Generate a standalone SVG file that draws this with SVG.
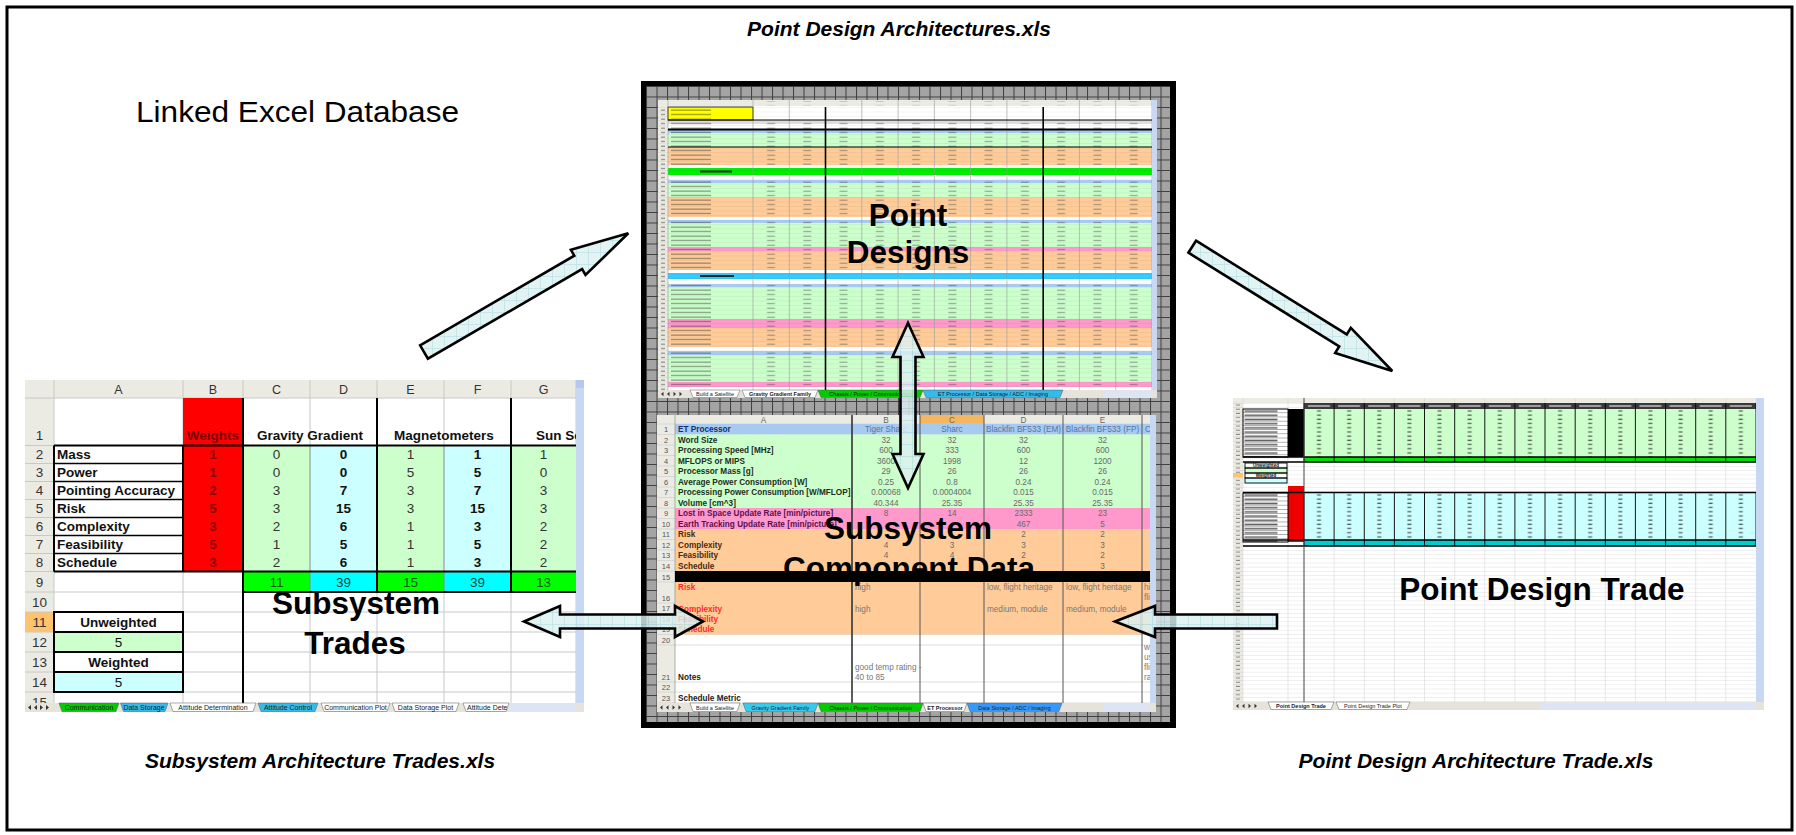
<svg xmlns="http://www.w3.org/2000/svg" width="1796" height="835" viewBox="0 0 1796 835">
<style>
.big{font-family:"Liberation Sans",Arial,sans-serif;font-size:31.5px;font-weight:bold;text-anchor:middle;fill:#000}
.cap{font-family:"Liberation Sans",Arial,sans-serif;font-size:21px;font-weight:bold;font-style:italic;text-anchor:middle;fill:#000}
.arrow{fill:url(#hatch);fill-opacity:.82;stroke:#000;stroke-width:2.6;stroke-linejoin:miter}
.gl{stroke:#c8c8c8;stroke-width:1;fill:none}
.bk{stroke:#000;fill:none}
.ls{font-family:"Liberation Sans",Arial,sans-serif;font-size:13.5px;fill:#111}
.ch{font-size:12.5px;fill:#333}
.lb{font-weight:bold}
.m{text-anchor:middle}
.hdr{fill:#ecebe3}
.g1{fill:#ccffcc}.c1{fill:#ccffff}.g2{fill:#00ff00}.c2{fill:#00ffff}.rd{fill:#ff0000}
.bl{fill:#a6caf0}.or{fill:#ffcc99}.pk{fill:#ff99cc}
.cs{font-family:"Liberation Sans",Arial,sans-serif;font-size:8.2px;fill:#6a6a6a}
.rn{font-family:"Liberation Sans",Arial,sans-serif;font-size:7.5px;fill:#555;text-anchor:middle}
.tab{font-family:"Liberation Sans",Arial,sans-serif;font-size:7px;fill:#222;text-anchor:middle}
.tabs{font-family:"Liberation Sans",Arial,sans-serif;font-size:5.5px;fill:#222;text-anchor:middle}
</style>
<defs>
<pattern id="frameGrid" patternUnits="userSpaceOnUse" x="646" y="86" width="10.5" height="10.5">
<rect width="10.5" height="10.5" fill="#a4a4a4"/>
<path d="M0 0.5H10.5M0.5 0V10.5" stroke="#3f3f3f" stroke-width="1"/>
</pattern>
<pattern id="hatch" patternUnits="userSpaceOnUse" width="12" height="12">
<rect width="12" height="12" fill="#dcf0f2"/>
<path d="M0 0.5H12M0.5 0V12" stroke="#b2dce1" stroke-width="0.8"/>
</pattern>
<pattern id="dT" patternUnits="userSpaceOnUse" x="753" y="0" width="36.27" height="4.5"><rect x="14" y="1.6" width="8" height="1.1" fill="#444" fill-opacity=".5"/></pattern>
<pattern id="lT" patternUnits="userSpaceOnUse" x="668" y="0" width="85" height="4.5"><rect x="3" y="1.5" width="40" height="1.2" fill="#1a1a1a" fill-opacity=".45"/></pattern>
<pattern id="nT" patternUnits="userSpaceOnUse" x="658" y="0" width="10" height="4.5"><rect x="3" y="1.6" width="4" height="1" fill="#777"/></pattern>
<pattern id="rowT" patternUnits="userSpaceOnUse" x="0" y="107" width="20" height="4.5"><rect width="20" height=".4" fill="#000" fill-opacity=".1"/></pattern>
<pattern id="dR" patternUnits="userSpaceOnUse" x="1304" y="409" width="30.13" height="4.2"><rect x="13" y="1.3" width="4" height="1.3" fill="#111" fill-opacity=".65"/></pattern>
<pattern id="dRw" patternUnits="userSpaceOnUse" x="1304" y="403" width="30.13" height="6"><rect x="4" y="2.3" width="22" height="1.4" fill="#eee" fill-opacity=".8"/></pattern>
<pattern id="lR" patternUnits="userSpaceOnUse" x="1243" y="409" width="45" height="4.2"><rect x="1.5" y="1.3" width="33" height="1.6" fill="#111" fill-opacity=".65"/><rect y="3.9" width="45" height=".3" fill="#000"/></pattern>
<pattern id="rowR" patternUnits="userSpaceOnUse" x="0" y="403" width="20" height="4.2"><rect width="20" height=".4" fill="#000" fill-opacity=".14"/></pattern>
<pattern id="nR" patternUnits="userSpaceOnUse" x="1233" y="403" width="10" height="4.2"><rect x="3" y="1.5" width="4" height="1" fill="#888"/></pattern>
<clipPath id="clipG"><rect x="511" y="380" width="65" height="330"/></clipPath>
<clipPath id="clipTabL"><rect x="463" y="703" width="44" height="9"/></clipPath>
<clipPath id="clipF"><rect x="1142" y="415" width="8" height="290"/></clipPath>
</defs>

<rect width="1796" height="835" fill="#fff"/>
<rect x="7" y="7" width="1785" height="823" fill="none" stroke="#000" stroke-width="3"/>

<g id="labels">
<text class="cap" x="899" y="36">Point Design Architectures.xls</text>
<text x="136" y="122" font-family="Liberation Sans, Arial, sans-serif" font-size="30" textLength="323" lengthAdjust="spacingAndGlyphs" fill="#000">Linked Excel Database</text>
<text class="cap" x="320" y="768">Subsystem Architecture Trades.xls</text>
<text class="cap" x="1476" y="768">Point Design Architecture Trade.xls</text>
</g>

<g id="sheet-subsystem-trades">
<rect x="25" y="380" width="559" height="332" fill="#fff"/>
<rect class="hdr" x="25" y="380" width="551" height="18"/>
<rect class="hdr" x="25" y="398" width="29" height="305"/>
<rect x="25" y="612" width="29" height="20" fill="#ffc36e"/>
<path class="gl" d="M25 398H576M25 445.5H576M25 463.5H576M25 481.5H576M25 499.5H576M25 517.5H576M25 535.5H576M25 553.5H576M25 571.5H576M25 592H576M25 612H576M25 632H576M25 652H576M25 672H576M25 692H576M54 380V703M183 380V703M243 380V703M310 380V703M377 380V703M444 380V703M511 380V703M576 380V703"/>
<rect class="rd" x="183" y="398" width="60" height="173.5"/>
<rect class="g1" x="243" y="445.5" width="67" height="126"/>
<rect class="c1" x="310" y="445.5" width="67" height="126"/>
<rect class="g1" x="377" y="445.5" width="67" height="126"/>
<rect class="c1" x="444" y="445.5" width="67" height="126"/>
<rect class="g1" x="511" y="445.5" width="65" height="126"/>
<rect class="g2" x="243" y="571.5" width="67" height="20.5"/>
<rect class="c2" x="310" y="571.5" width="67" height="20.5"/>
<rect class="g2" x="377" y="571.5" width="67" height="20.5"/>
<rect class="c2" x="444" y="571.5" width="67" height="20.5"/>
<rect class="g2" x="511" y="571.5" width="65" height="20.5"/>
<rect class="g1" x="54" y="632" width="129" height="20"/>
<rect class="c1" x="54" y="672" width="129" height="20"/>
<path d="M310 445.5V592M444 445.5V592" stroke="#8a8a8a" stroke-width="1"/>
<g class="bk" stroke-width="2">
<path d="M54 445.5H576M54 571.5H576M243 592H576M243 398V703M377 398V592M511 398V592M54 445.5V571.5M183 445.5V571.5"/>
<path stroke-width="1.5" d="M54 463.5H183M54 481.5H183M54 499.5H183M54 517.5H183M54 535.5H183M54 553.5H183"/>
<rect x="54" y="612" width="129" height="80"/>
<path d="M54 632H183M54 652H183M54 672H183"/>
</g>
<g class="ls ch m">
<text x="118.5" y="394">A</text><text x="213" y="394">B</text><text x="276.5" y="394">C</text><text x="343.5" y="394">D</text><text x="410.5" y="394">E</text><text x="477.5" y="394">F</text><text x="543.5" y="394">G</text>
</g>
<g class="ls m" style="fill:#333">
<text x="39.5" y="440">1</text><text x="39.5" y="459">2</text><text x="39.5" y="477">3</text><text x="39.5" y="495">4</text><text x="39.5" y="513">5</text><text x="39.5" y="531">6</text><text x="39.5" y="549">7</text><text x="39.5" y="567">8</text><text x="39.5" y="587">9</text><text x="39.5" y="607">10</text><text x="39.5" y="627">11</text><text x="39.5" y="647">12</text><text x="39.5" y="667">13</text><text x="39.5" y="687">14</text><text x="39.5" y="707">15</text>
</g>
<text class="ls lb m" x="213" y="440" style="fill:#7a0000">Weights</text>
<text class="ls lb m" x="310" y="440">Gravity Gradient</text>
<text class="ls lb m" x="444" y="440">Magnetometers</text>
<text class="ls lb" x="536" y="440" clip-path="url(#clipG)">Sun Sensors</text>
<g class="ls lb">
<text x="57" y="459">Mass</text><text x="57" y="477">Power</text><text x="57" y="495">Pointing Accuracy</text><text x="57" y="513">Risk</text><text x="57" y="531">Complexity</text><text x="57" y="549">Feasibility</text><text x="57" y="567">Schedule</text>
</g>
<g class="ls lb m" style="fill:#8a0000">
<text x="213" y="459">1</text><text x="213" y="477">1</text><text x="213" y="495">2</text><text x="213" y="513">5</text><text x="213" y="531">3</text><text x="213" y="549">5</text><text x="213" y="567">3</text>
</g>
<g class="ls m" style="fill:#333">
<text x="276.5" y="459">0</text><text x="276.5" y="477">0</text><text x="276.5" y="495">3</text><text x="276.5" y="513">3</text><text x="276.5" y="531">2</text><text x="276.5" y="549">1</text><text x="276.5" y="567">2</text>
<text x="410.5" y="459">1</text><text x="410.5" y="477">5</text><text x="410.5" y="495">3</text><text x="410.5" y="513">3</text><text x="410.5" y="531">1</text><text x="410.5" y="549">1</text><text x="410.5" y="567">1</text>
<text x="543.5" y="459">1</text><text x="543.5" y="477">0</text><text x="543.5" y="495">3</text><text x="543.5" y="513">3</text><text x="543.5" y="531">2</text><text x="543.5" y="549">2</text><text x="543.5" y="567">2</text>
</g>
<g class="ls lb m">
<text x="343.5" y="459">0</text><text x="343.5" y="477">0</text><text x="343.5" y="495">7</text><text x="343.5" y="513">15</text><text x="343.5" y="531">6</text><text x="343.5" y="549">5</text><text x="343.5" y="567">6</text>
<text x="477.5" y="459">1</text><text x="477.5" y="477">5</text><text x="477.5" y="495">7</text><text x="477.5" y="513">15</text><text x="477.5" y="531">3</text><text x="477.5" y="549">5</text><text x="477.5" y="567">3</text>
</g>
<g class="ls m">
<text x="276.5" y="587" style="fill:#0a5a0a">11</text><text x="343.5" y="587" style="fill:#0a4848">39</text><text x="410.5" y="587" style="fill:#0a5a0a">15</text><text x="477.5" y="587" style="fill:#0a4848">39</text><text x="543.5" y="587" style="fill:#0a5a0a">13</text>
</g>
<text class="ls lb m" x="118.5" y="627">Unweighted</text>
<text class="ls m" x="118.5" y="647">5</text>
<text class="ls lb m" x="118.5" y="667">Weighted</text>
<text class="ls m" x="118.5" y="687">5</text>
<rect x="576" y="380" width="8" height="323" fill="#c9d8f2"/>
<rect x="576" y="380" width="8" height="8" fill="#b6c8ee"/>
<rect x="25" y="703" width="559" height="9" fill="#e6e4da"/>
<path d="M28 707.5l3-2.5v5zM34 707.5l3-2.5v5zM43 707.5l-3-2.5v5zM49 707.5l-3-2.5v5z" fill="#333"/>
<polygon points="59,703 119,703 116,711.5 62,711.5" fill="#00cc00" stroke="#555" stroke-width=".5"/>
<polygon points="120.5,703 168,703 165,711.5 123.5,711.5" fill="#33bbee" stroke="#555" stroke-width=".5"/>
<polygon points="170,703 256,703 253,711.5 173,711.5" fill="#fff" stroke="#555" stroke-width=".5"/>
<polygon points="258,703 318,703 315,711.5 261,711.5" fill="#33bbee" stroke="#555" stroke-width=".5"/>
<polygon points="321,703 390,703 387,711.5 324,711.5" fill="#fff" stroke="#555" stroke-width=".5"/>
<polygon points="392,703 459,703 456,711.5 395,711.5" fill="#fff" stroke="#555" stroke-width=".5"/>
<polygon points="463,703 509,703 506,711.5 466,711.5" fill="#fff" stroke="#555" stroke-width=".5"/>
<rect x="509" y="703.5" width="67" height="8" fill="#dde4f4"/>
<text class="tab" x="89" y="710">Communication</text>
<text class="tab" x="144" y="710">Data Storage</text>
<text class="tab" x="213" y="710">Attitude Determination</text>
<text class="tab" x="288" y="710">Attitude Control</text>
<text class="tab" x="355.5" y="710">Communication Plot</text>
<text class="tab" x="425.5" y="710">Data Storage Plot</text>
<text class="tab" x="467" y="710" style="text-anchor:start" clip-path="url(#clipTabL)">Attitude Determination Plot</text>
<text class="big" x="356" y="614">Subsystem</text>
<text class="big" x="355" y="654">Trades</text>
</g>

<g id="panel-frame">
<rect x="641" y="81" width="535" height="647" fill="#000"/>
<rect x="646" y="86" width="524" height="636" fill="url(#frameGrid)"/>
</g>

<g id="sheet-point-designs">
<rect x="658" y="100" width="499" height="298" fill="#fff"/>
<rect class="hdr" x="658" y="100" width="494" height="6"/>
<rect class="hdr" x="658" y="106" width="10" height="284"/>
<rect x="753" y="101" width="399" height="4.5" fill="url(#dT)" opacity=".6"/>
<rect x="668" y="120" width="484" height="4" fill="#dedede"/>
<rect class="bl" x="668" y="130" width="484" height="3"/>
<rect class="g1" x="668" y="133" width="484" height="14"/>
<rect class="or" x="668" y="147" width="484" height="18"/>
<rect x="668" y="168" width="484" height="7" fill="#00ee00"/>
<rect class="bl" x="668" y="180" width="484" height="3"/>
<rect class="g1" x="668" y="183" width="484" height="14"/>
<rect class="or" x="668" y="197" width="484" height="20"/>
<rect class="bl" x="668" y="220" width="484" height="3"/>
<rect class="g1" x="668" y="223" width="484" height="24"/>
<rect class="pk" x="668" y="247" width="484" height="4"/>
<rect class="or" x="668" y="251" width="484" height="19"/>
<rect x="668" y="273" width="484" height="6" fill="#33ccff"/>
<rect class="bl" x="668" y="284" width="484" height="3"/>
<rect class="g1" x="668" y="287" width="484" height="32"/>
<rect class="pk" x="668" y="319" width="484" height="9"/>
<rect class="or" x="668" y="328" width="484" height="19"/>
<rect class="bl" x="668" y="351" width="484" height="4"/>
<rect class="g1" x="668" y="355" width="484" height="27"/>
<rect class="pk" x="668" y="382" width="484" height="5"/>
<rect x="658" y="107" width="494" height="283" fill="url(#rowT)"/>
<rect x="668" y="107" width="85" height="13" fill="#ffff00" stroke="#000" stroke-width=".8"/>
<rect x="670" y="108" width="80" height="11" fill="url(#lT)"/>
<rect x="658" y="107" width="10" height="283" fill="url(#nT)"/>
<rect x="753" y="120" width="399" height="10" fill="url(#dT)"/>
<rect x="753" y="130" width="399" height="35" fill="url(#dT)"/>
<rect x="753" y="180" width="399" height="37" fill="url(#dT)"/>
<rect x="753" y="220" width="399" height="50" fill="url(#dT)"/>
<rect x="753" y="284" width="399" height="63" fill="url(#dT)"/>
<rect x="753" y="351" width="399" height="36" fill="url(#dT)"/>
<rect x="668" y="120" width="85" height="10" fill="url(#lT)"/>
<rect x="668" y="130" width="85" height="35" fill="url(#lT)"/>
<rect x="668" y="180" width="85" height="37" fill="url(#lT)"/>
<rect x="668" y="220" width="85" height="50" fill="url(#lT)"/>
<rect x="668" y="284" width="85" height="63" fill="url(#lT)"/>
<rect x="668" y="351" width="85" height="36" fill="url(#lT)"/>
<rect x="700" y="170.5" width="32" height="2" fill="#222"/>
<rect x="700" y="275" width="34" height="2" fill="#222"/>
<path d="M668 100V390M753 100V390M789.3 100V390M861.8 100V390M898.1 100V390M934.4 100V390M970.6 100V390M1006.9 100V390M1079.4 100V390M1115.7 100V390M1152 100V390" stroke="#999" stroke-width=".6"/>
<path d="M825.5 107V390M1043.2 107V390" stroke="#000" stroke-width="1.6"/>
<path d="M668 120H1152M668 147H1152" stroke="#000" stroke-width="1"/>
<path d="M668 129.5H1152" stroke="#000" stroke-width="2"/>
<rect x="1152" y="100" width="5" height="290" fill="#c9d8f2"/>
<rect x="658" y="390" width="499" height="8" fill="#e6e4da"/>
<path d="M661 394l2.5-2.2v4.4zM667 394l2.5-2.2v4.4zM676 394l-2.5-2.2v4.4zM682 394l-2.5-2.2v4.4z" fill="#333"/>
<polygon points="690,390 740,390 737,397.5 693,397.5" fill="#fff" stroke="#555" stroke-width=".5"/>
<polygon points="742,390 818,390 815,397.5 745,397.5" fill="#fff" stroke="#555" stroke-width=".5"/>
<polygon points="818,390 923,390 920,397.5 821,397.5" fill="#00cc00" stroke="#555" stroke-width=".5"/>
<polygon points="923,390 1063,390 1060,397.5 926,397.5" fill="#33bbee" stroke="#555" stroke-width=".5"/>
<rect x="1103" y="390.5" width="49" height="7" fill="#dde4f4"/>
<text class="tabs" x="715" y="396.3">Build a Satellite</text>
<text class="tabs" x="780" y="396.3" style="font-weight:bold">Gravity Gradient Family</text>
<text class="tabs" x="870.5" y="396.3">Chassis / Power / Communication</text>
<text class="tabs" x="993" y="396.3">ET Processor / Data Storage / ADC / Imaging</text>
<text class="big" x="908" y="226">Point</text>
<text class="big" x="908" y="263">Designs</text>
</g>

<g id="sheet-component-data">
<rect x="657" y="415" width="499" height="297" fill="#fff"/>
<rect class="hdr" x="657" y="415" width="493" height="9"/>
<rect x="920" y="415" width="64" height="9" fill="#f5b662"/>
<rect class="hdr" x="657" y="424" width="18" height="279"/>
<path d="M657 424H1150M657 434.5H1150M657 445H1150M657 455.5H1150M657 466H1150M657 476.5H1150M657 487H1150M657 497.5H1150M657 508H1150M657 518.5H1150M657 529H1150M657 539.5H1150M657 550H1150M657 560.5H1150M657 571H1150M657 582H1150M657 603H1150M657 613.5H1150M657 624H1150M657 634.5H1150M657 645H1150M657 682H1150M657 692H1150M657 703H1150" stroke="#cfcfcf" stroke-width=".7"/>
<rect class="bl" x="675" y="424" width="475" height="10.5"/>
<rect class="g1" x="675" y="434.5" width="475" height="73.5"/>
<rect class="pk" x="675" y="508" width="475" height="21"/>
<rect class="or" x="675" y="529" width="475" height="42"/>
<rect class="or" x="675" y="582" width="475" height="52.5"/>
<path d="M675 415V703" stroke="#9a9a9a" stroke-width=".8"/>
<path d="M852 415V703" stroke="#333" stroke-width="1.6"/>
<path d="M920 415V703M984 415V703M1063 415V703M1142 415V703" stroke="#555" stroke-width="1"/>
<g class="cs m" style="fill:#666">
<text x="763.5" y="422.5">A</text><text x="886" y="422.5">B</text><text x="952" y="422.5">C</text><text x="1023.5" y="422.5">D</text><text x="1102.5" y="422.5">E</text>
</g>
<g class="rn">
<text x="666" y="432">1</text><text x="666" y="442.5">2</text><text x="666" y="453">3</text><text x="666" y="463.5">4</text><text x="666" y="474">5</text><text x="666" y="484.5">6</text><text x="666" y="495">7</text><text x="666" y="505.5">8</text><text x="666" y="516">9</text><text x="666" y="526.5">10</text><text x="666" y="537">11</text><text x="666" y="547.5">12</text><text x="666" y="558">13</text><text x="666" y="568.5">14</text><text x="666" y="579.5">15</text><text x="666" y="600.5">16</text><text x="666" y="611">17</text><text x="666" y="621.5">18</text><text x="666" y="632">19</text><text x="666" y="642.5">20</text><text x="666" y="679.5">21</text><text x="666" y="690">22</text><text x="666" y="700.5">23</text>
</g>
<g class="cs lb">
<text x="678" y="432" style="fill:#14306e">ET Processor</text>
<g style="fill:#1e2e1e">
<text x="678" y="442.5">Word Size</text><text x="678" y="453">Processing Speed [MHz]</text><text x="678" y="463.5">MFLOPS or MIPS</text><text x="678" y="474">Processor Mass [g]</text><text x="678" y="484.5">Average Power Consumption [W]</text><text x="678" y="495">Processing Power Consumption [W/MFLOP]</text><text x="678" y="505.5">Volume [cm^3]</text>
</g>
<g style="fill:#5a1050">
<text x="678" y="516">Lost in Space Update Rate [min/picture]</text><text x="678" y="526.5">Earth Tracking Update Rate [min/picture]</text>
</g>
<g style="fill:#4a2a10">
<text x="678" y="537">Risk</text><text x="678" y="547.5">Complexity</text><text x="678" y="558">Feasibility</text><text x="678" y="568.5">Schedule</text>
</g>
<g style="fill:#ff2a2a">
<text x="678" y="589.5">Risk</text><text x="678" y="611.5">Complexity</text><text x="678" y="622">Feasibility</text><text x="678" y="632.3">Schedule</text>
</g>
<g style="fill:#222">
<text x="678" y="679.5">Notes</text><text x="678" y="700.5">Schedule Metric</text>
</g>
</g>
<g class="cs m" style="fill:#5474a6">
<text x="886" y="432">Tiger Sharc</text><text x="952" y="432">Sharc</text><text x="1023.5" y="432">Blackfin BF533 (EM)</text><text x="1102.5" y="432">Blackfin BF533 (FP)</text>
</g>
<text class="cs" x="1145" y="432" clip-path="url(#clipF)" style="fill:#5474a6">C</text>
<g class="cs m">
<text x="886" y="442.5">32</text><text x="952" y="442.5">32</text><text x="1023.5" y="442.5">32</text><text x="1102.5" y="442.5">32</text>
<text x="886" y="453">600</text><text x="952" y="453">333</text><text x="1023.5" y="453">600</text><text x="1102.5" y="453">600</text>
<text x="886" y="463.5">3600</text><text x="952" y="463.5">1998</text><text x="1023.5" y="463.5">12</text><text x="1102.5" y="463.5">1200</text>
<text x="886" y="474">29</text><text x="952" y="474">26</text><text x="1023.5" y="474">26</text><text x="1102.5" y="474">26</text>
<text x="886" y="484.5">0.25</text><text x="952" y="484.5">0.8</text><text x="1023.5" y="484.5">0.24</text><text x="1102.5" y="484.5">0.24</text>
<text x="886" y="495">0.00068</text><text x="952" y="495">0.0004004</text><text x="1023.5" y="495">0.015</text><text x="1102.5" y="495">0.015</text>
<text x="886" y="505.5">40.344</text><text x="952" y="505.5">25.35</text><text x="1023.5" y="505.5">25.35</text><text x="1102.5" y="505.5">25.35</text>
<text x="886" y="515.5">8</text><text x="952" y="515.5">14</text><text x="1023.5" y="516">2333</text><text x="1102.5" y="516">23</text>
<text x="1023.5" y="526.5">467</text><text x="1102.5" y="526.5">5</text>
<text x="1023.5" y="537">2</text><text x="1102.5" y="537">2</text>
<text x="886" y="547.5">4</text><text x="952" y="547.5">3</text><text x="1023.5" y="547.5">3</text><text x="1102.5" y="547.5">3</text>
<text x="886" y="558">4</text><text x="952" y="558">4</text><text x="1023.5" y="558">2</text><text x="1102.5" y="558">2</text>
<text x="1102.5" y="568.5">3</text>
</g>
<g class="cs" style="fill:#777">
<text x="855" y="589.5">high</text><text x="987" y="589.5">low, flight heritage</text><text x="1066" y="589.5">low, flight heritage</text>
<text x="855" y="611.5">high</text><text x="987" y="611.5">medium, module</text><text x="1066" y="611.5">medium, module</text>
<text x="855" y="669.5">good temp rating -</text><text x="855" y="679.5">40 to 85</text>
</g>
<g class="cs" style="fill:#777" clip-path="url(#clipF)">
<text x="1144" y="589.5">high,</text><text x="1144" y="600">flight</text>
<text x="1144" y="649.5">with</text><text x="1144" y="659.5">us</text><text x="1144" y="669.5">flight</text><text x="1144" y="679.5">rating</text>
</g>
<rect x="1150" y="415" width="6" height="288" fill="#c9d8f2"/>
<rect x="657" y="703" width="499" height="9" fill="#e6e4da"/>
<path d="M660 707.5l2.5-2.2v4.4zM666 707.5l2.5-2.2v4.4zM675 707.5l-2.5-2.2v4.4zM681 707.5l-2.5-2.2v4.4z" fill="#333"/>
<polygon points="690,703 740,703 737,711.5 693,711.5" fill="#fff" stroke="#555" stroke-width=".5"/>
<polygon points="743,703 818,703 815,711.5 746,711.5" fill="#33ccee" stroke="#555" stroke-width=".5"/>
<polygon points="818,703 923,703 920,711.5 821,711.5" fill="#00cc00" stroke="#555" stroke-width=".5"/>
<polygon points="923,703 967,703 964,711.5 926,711.5" fill="#fff" stroke="#555" stroke-width=".5"/>
<polygon points="967,703 1062,703 1059,711.5 970,711.5" fill="#3399ff" stroke="#555" stroke-width=".5"/>
<rect x="1103" y="703.5" width="47" height="8" fill="#dde4f4"/>
<text class="tabs" x="715" y="710">Build a Satellite</text>
<text class="tabs" x="780.5" y="710">Gravity Gradient Family</text>
<text class="tabs" x="870.5" y="710">Chassis / Power / Communication</text>
<text class="tabs" x="945" y="710" style="font-weight:bold">ET Processor</text>
<text class="tabs" x="1014.5" y="710">Data Storage / ADC / Imaging</text>
<text class="big" x="908" y="539">Subsystem</text>
<text class="big" x="909" y="579">Component Data</text>
<rect x="675" y="571" width="475" height="11" fill="#000"/>
</g>

<g id="sheet-point-design-trade">
<rect x="1233" y="398" width="531" height="312" fill="#fff"/>
<rect class="hdr" x="1233" y="398" width="523" height="5"/>
<rect class="hdr" x="1233" y="403" width="10" height="299"/>
<rect x="1233" y="403" width="523" height="299" fill="url(#rowR)"/>
<rect x="1233" y="403" width="10" height="299" fill="url(#nR)"/>
<path d="M1243 398V702M1288 398V702M1334.1 398V702M1364.3 398V702M1394.4 398V702M1424.5 398V702M1454.7 398V702M1484.8 398V702M1514.9 398V702M1545 398V702M1575.2 398V702M1605.3 398V702M1635.4 398V702M1665.6 398V702M1695.7 398V702M1725.8 398V702" stroke="#d6d6d6" stroke-width=".6"/>
<rect x="1233" y="473" width="10" height="4.5" fill="#ffc36e"/>
<rect x="1304" y="403" width="452" height="6" fill="#3a3a3a"/>
<rect x="1304" y="403" width="452" height="6" fill="url(#dRw)"/>
<rect class="g1" x="1304" y="409" width="452" height="48"/>
<rect x="1304" y="409" width="452" height="48" fill="url(#dR)"/>
<rect x="1288" y="409" width="16" height="48" fill="#000"/>
<rect x="1243" y="409" width="45" height="48" fill="#fff"/>
<rect x="1243" y="409" width="45" height="48" fill="url(#lR)" stroke="#000" stroke-width="1"/>
<rect x="1304" y="457" width="452" height="5" fill="#00dd00"/>
<path d="M1243 457H1756M1243 462H1756" stroke="#000" stroke-width="1.5"/>
<path d="M1304 403V462M1334.1 403V462M1364.3 403V462M1394.4 403V462M1424.5 403V462M1454.7 403V462M1484.8 403V462M1514.9 403V462M1545 403V462M1575.2 403V462M1605.3 403V462M1635.4 403V462M1665.6 403V462M1695.7 403V462M1725.8 403V462M1756 403V462" stroke="#000" stroke-width=".9"/>
<rect class="g1" x="1245" y="468" width="42" height="5"/>
<rect class="c1" x="1245" y="478" width="42" height="5"/>
<g fill="none" stroke="#000" stroke-width=".9">
<rect x="1245" y="463" width="42" height="5"/><rect x="1245" y="468" width="42" height="5"/><rect x="1245" y="473" width="42" height="5"/><rect x="1245" y="478" width="42" height="5"/>
</g>
<text x="1266" y="467.2" font-family="Liberation Sans, Arial, sans-serif" font-size="4.6" font-weight="bold" text-anchor="middle" fill="#111">Unweighted</text>
<text x="1266" y="477.2" font-family="Liberation Sans, Arial, sans-serif" font-size="4.6" font-weight="bold" text-anchor="middle" fill="#111">Weighted</text>
<rect x="1288" y="486" width="16" height="56" fill="#ee0000"/>
<rect class="c1" x="1304" y="493" width="452" height="47"/>
<rect x="1304" y="493" width="452" height="47" fill="url(#dR)"/>
<rect x="1243" y="493" width="45" height="49" fill="#fff"/>
<rect x="1243" y="493" width="45" height="49" fill="url(#lR)" stroke="#000" stroke-width="1"/>
<rect x="1304" y="540" width="452" height="6" fill="#00cccc"/>
<path d="M1243 492.5H1756M1243 540H1756M1243 546H1756" stroke="#000" stroke-width="1.5"/>
<path d="M1304 492V546M1334.1 492V546M1364.3 492V546M1394.4 492V546M1424.5 492V546M1454.7 492V546M1484.8 492V546M1514.9 492V546M1545 492V546M1575.2 492V546M1605.3 492V546M1635.4 492V546M1665.6 492V546M1695.7 492V546M1725.8 492V546M1756 492V546" stroke="#000" stroke-width=".9"/>
<path d="M1304 398V702" stroke="#444" stroke-width="1"/>
<rect x="1756" y="398" width="8" height="304" fill="#c9d8f2"/>
<rect x="1233" y="702" width="531" height="8" fill="#e6e4da"/>
<path d="M1236 706l2.5-2.2v4.4zM1242 706l2.5-2.2v4.4zM1251 706l-2.5-2.2v4.4zM1257 706l-2.5-2.2v4.4z" fill="#333"/>
<polygon points="1268,702 1334,702 1331,709.5 1271,709.5" fill="#fff" stroke="#555" stroke-width=".5"/>
<polygon points="1336,702 1410,702 1407,709.5 1339,709.5" fill="#fff" stroke="#555" stroke-width=".5"/>
<rect x="1540" y="702.5" width="216" height="7" fill="#dde4f4"/>
<text class="tabs" x="1301" y="708.3" style="font-weight:bold">Point Design Trade</text>
<text class="tabs" x="1373" y="708.3">Point Design Trade Plot</text>
<text class="big" x="1542" y="600">Point Design Trade</text>
</g>

<g id="connectors">
<path class="arrow" d="M420.1,345.3 L574.3,255.7 L570.9,249.8 L628.3,233.3 L585.5,275 L582.1,269.1 L427.9,358.7 Z"/>
<path class="arrow" d="M1196,240.7 L1346.8,334.4 L1350.8,327.9 L1392.3,371 L1335.2,352.9 L1339.2,346.4 L1188.4,252.7 Z"/>
<path class="arrow" d="M908,323 L923.5,357 L915.5,357 L915.5,454 L923.5,454 L908,488 L892.5,454 L900.5,454 L900.5,357 L892.5,357 Z"/>
<path class="arrow" d="M524,621.5 L560,606 L560,614.5 L675,614.5 L675,606 L703,621.5 L675,637 L675,628.5 L560,628.5 L560,637 Z"/>
<path class="arrow" d="M1115,621.5 L1155,606 L1155,614.5 L1277,614.5 L1277,628.5 L1155,628.5 L1155,637 Z"/>
</g>
</svg>
